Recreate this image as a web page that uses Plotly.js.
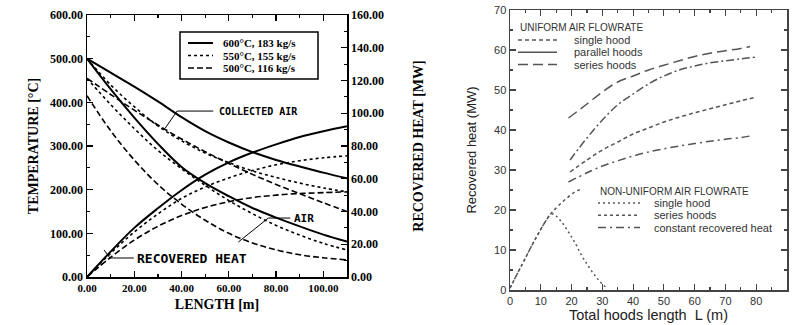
<!DOCTYPE html>
<html><head><meta charset="utf-8">
<script src="https://cdn.plot.ly/plotly-3.0.1.min.js"></script>
<style>html,body{margin:0;padding:0;background:#fff;}#chart{width:792px;height:325px;}</style>
</head><body><div id="chart"></div>
<script>
// ---------- Left chart data ----------
const lengthM = [0,10,20,30,40,50,60,70,80,90,100,110];
const collectedAir600 = [500,468,436,402,366,334,308,286,268,253,239,226];
const collectedAir550 = [500,440,390,346,312,284,262,243,228,215,204,195];
const collectedAir500 = [455,418,382,348,316,287,260,235,212,191,170,150];
const air600 = [500,430,365,305,252,215,185,158,136,116,97,81];
const air550 = [455,395,340,290,248,210,175,145,118,96,77,62];
const air500 = [415,335,268,212,167,130,100,78,62,51,44,39];
const heat600 = [0,15.5,30,42,53,62.5,70,76,81,85.5,89,92];
const heat550 = [0,14.5,27.5,38.5,48,55,60.5,65,68.5,71,72.8,74];
const heat500 = [0,12,22.5,31,37.5,42.5,46,48.5,50,51,51.5,52];
const caseLabels = ['600°C, 183 kg/s','550°C, 155 kg/s','500°C, 116 kg/s'];
const curveLabels = ['COLLECTED AIR','AIR','RECOVERED HEAT'];

// ---------- Right chart data ----------
const uniformL = [19.5,25,30,35,40,45,50,55,60,65,70,75,80];
const uniformLShort = [19,25,30,35,40,45,50,55,60,65,70,75,78];
const uniformSingle = [29.5,32.5,35,37,39,40.5,42,43.2,44.3,45.3,46.3,47.3,48.2];
const uniformParallel = [32.5,38,42.5,46.3,49,51.5,53.5,55,56,56.8,57.3,57.8,58.2];
const uniformSeries = [43,46.5,49.5,52,53.5,55,56.2,57.3,58.4,59.2,59.8,60.4,60.9];
const nuSingleL = [0,1,3,5,7,9,11,13,14,15,17,19,21,23,25,27,29,31];
const nuSingle = [0.5,2,5,8,11,13.8,16.5,18.7,19,18.5,16.8,14.5,12,9,6.5,4.2,2.3,0.8];
const nuSeriesL = [0,1,3,5,7,9,11,13,15,17,19,21,22.5,23.5];
const nuSeries = [0.5,2,5,8,11,13.8,16.5,18.8,20.5,22,23.3,24.5,25,24.8];
const constantHeat = [27,29.3,31,32.3,33.5,34.5,35.3,36,36.6,37.2,37.7,38.1,38.5];
const uniformNames = ['single hood','parallel hoods','series hoods'];
const nonUniformNames = ['single hood','series hoods','constant recovered heat'];

// ---------- styles ----------
const W = 792, H = 325;
const px = x => x / W, py = y => 1 - y / H;
const serif = 'Liberation Serif, Times New Roman, serif';
const mono = 'DejaVu Sans Mono, Liberation Mono, monospace';
const sans = 'Liberation Sans, Arial, sans-serif';
const caseStyles = [
  {color:'#000', width:2, dash:'solid'},
  {color:'#000', width:1.6, dash:'dot'},
  {color:'#000', width:1.6, dash:'6px,3px'}
];
const gray = '#555';
const uStyles = [
  {color:gray, width:1.5, dash:'4px,3px'},
  {color:gray, width:1.5, dash:'8px,3px,2px,3px'},
  {color:gray, width:1.5, dash:'10px,5px'}
];
const nuStyles = [
  {color:gray, width:1.5, dash:'2px,3px'},
  {color:gray, width:1.5, dash:'3px,3px'},
  {color:gray, width:1.5, dash:'8px,4px,2px,4px'}
];

const traces = [];
const leftSets = [
  [collectedAir600, air600, heat600],
  [collectedAir550, air550, heat550],
  [collectedAir500, air500, heat500]
];
leftSets.forEach((set, i) => {
  set.forEach((vals, j) => {
    traces.push({x: lengthM, y: vals, type:'scatter', mode:'lines',
      line: Object.assign({shape:'spline'}, caseStyles[i]),
      xaxis:'x', yaxis: j === 2 ? 'y2' : 'y', showlegend:false,
      name: caseLabels[i] + ' ' + curveLabels[j]});
  });
});
const rightSets = [
  {x: uniformL, y: uniformSingle, s: uStyles[0]},
  {x: uniformL, y: uniformParallel, s: uStyles[1]},
  {x: uniformLShort, y: uniformSeries, s: uStyles[2]},
  {x: nuSingleL, y: nuSingle, s: nuStyles[0]},
  {x: nuSeriesL, y: nuSeries, s: nuStyles[1]},
  {x: uniformLShort, y: constantHeat, s: nuStyles[2]}
];
rightSets.forEach(r => traces.push({x:r.x, y:r.y, type:'scatter', mode:'lines',
  line:Object.assign({shape:'spline'}, r.s), xaxis:'x2', yaxis:'y3', showlegend:false}));

// ---------- manual legends & labels ----------
const shapes = [];
const annotations = [];
shapes.push({type:'rect', xref:'paper', yref:'paper', x0:px(180), x1:px(318), y0:py(79), y1:py(32),
  line:{color:'#000', width:1.5}});
caseLabels.forEach((t, i) => {
  const y = 43 + 12.5 * i;
  shapes.push({type:'line', xref:'paper', yref:'paper', x0:px(188), x1:px(213), y0:py(y), y1:py(y), line:caseStyles[i]});
  annotations.push({xref:'paper', yref:'paper', x:px(221), y:py(y), xanchor:'left', yanchor:'middle',
    text:t, showarrow:false, font:{family:serif, size:11, color:'#000', weight:'bold'}});
});
function legendBlock(title, names, styles, x0, x1, xt, yTitle, y0) {
  annotations.push({xref:'paper', yref:'paper', x:px(x0), y:py(yTitle), xanchor:'left', yanchor:'middle',
    text:title, showarrow:false, font:{family:sans, size:10, color:'#333'}});
  names.forEach((n, i) => {
    const y = y0 + 12.3 * i;
    shapes.push({type:'line', xref:'paper', yref:'paper', x0:px(x0), x1:px(x1), y0:py(y), y1:py(y), line:styles[i]});
    annotations.push({xref:'paper', yref:'paper', x:px(xt), y:py(y), xanchor:'left', yanchor:'middle',
      text:n, showarrow:false, font:{family:sans, size:11, color:'#333'}});
  });
}
legendBlock('UNIFORM AIR FLOWRATE', uniformNames, [uStyles[0], {color:gray,width:1.5,dash:'solid'}, uStyles[2]], 518, 557, 572, 28, 40);
legendBlock('NON-UNIFORM AIR FLOWRATE', nonUniformNames, nuStyles, 598, 640, 652, 191.5, 203);

annotations.push({xref:'x', yref:'y', x:55.1, y:380, xanchor:'left', yanchor:'middle', text:curveLabels[0],
  showarrow:false, font:{family:mono, size:10, color:'#000', weight:'bold'}});
annotations.push({xref:'x', yref:'y', x:86.9, y:135, xanchor:'left', yanchor:'middle', text:curveLabels[1],
  showarrow:false, font:{family:mono, size:11, color:'#000', weight:'bold'}});
annotations.push({xref:'x', yref:'y', x:20.3, y:43.5, xanchor:'left', yanchor:'middle', text:curveLabels[2],
  showarrow:false, font:{family:mono, size:13, color:'#000', weight:'bold'}});
const ptr = {color:'#000', width:1};
shapes.push({type:'path', xref:'x', yref:'y', path:'M 53.4 380 L 38.1 380 L 33.1 341', line:ptr});
shapes.push({type:'path', xref:'x', yref:'y', path:'M 86 135 L 76.7 135 L 64 80', line:ptr});
shapes.push({type:'path', xref:'x', yref:'y', path:'M 19.8 43.5 L 9.7 43.5 L 7.2 62', line:ptr});

// ---------- axes ----------
const lTick = {family:serif, size:11, color:'#000', weight:'bold'};
const lyTick = {family:serif, size:12, color:'#000', weight:'bold'};
const lTitle = {family:serif, size:14, color:'#000', weight:'bold'};
const rTick = {family:sans, size:11, color:'#333'};
const common = {showgrid:false, zeroline:false, showline:true, ticks:'inside', ticklen:6, tickwidth:1.2};

const layout = {
  width:W, height:H, margin:{l:0,r:0,t:0,b:0}, paper_bgcolor:'#fff', plot_bgcolor:'#fff',
  showlegend:false,
  xaxis: Object.assign({}, common, {domain:[px(87), px(347)], anchor:'y', range:[0,110], tick0:0, dtick:20,
    tickformat:'.2f', linecolor:'#000', linewidth:1.5, tickcolor:'#000', mirror:'ticks',
    minor:{dtick:10, ticks:'inside', ticklen:3, tickcolor:'#000'}, tickfont:lTick,
    title:{text:'LENGTH [m]', font:lTitle, standoff:6}}),
  yaxis: Object.assign({}, common, {domain:[py(277), py(15)], anchor:'x', range:[0,600], dtick:100,
    tickformat:'.2f', linecolor:'#000', linewidth:1.5, tickcolor:'#000',
    minor:{dtick:50, ticks:'inside', ticklen:3, tickcolor:'#000'}, tickfont:lyTick,
    title:{text:'TEMPERATURE [°C]', font:lTitle, standoff:8}}),
  yaxis2: Object.assign({}, common, {overlaying:'y', side:'right', anchor:'x', range:[0,160], dtick:20,
    tickformat:'.2f', linecolor:'#000', linewidth:1.5, tickcolor:'#000',
    minor:{dtick:10, ticks:'inside', ticklen:3, tickcolor:'#000'}, tickfont:lyTick,
    title:{text:'RECOVERED HEAT [MW]', font:lTitle, standoff:30}}),
  xaxis2: Object.assign({}, common, {domain:[px(510), px(787)], anchor:'y3', range:[0,90], dtick:10,
    linecolor:'#444', linewidth:1.5, tickcolor:'#444', mirror:'ticks',
    minor:{dtick:5, ticks:'inside', ticklen:3, tickcolor:'#444'}, tickfont:rTick,
    title:{text:'Total hoods length  L (m)', font:{family:sans, size:14.5, color:'#222'}, standoff:2}}),
  yaxis3: Object.assign({}, common, {domain:[py(290), py(10)], anchor:'x2', range:[0,70], dtick:10,
    linecolor:'#444', linewidth:1.5, tickcolor:'#444', mirror:'ticks',
    minor:{dtick:5, ticks:'inside', ticklen:3, tickcolor:'#444'}, tickfont:rTick,
    title:{text:'Recovered heat (MW)', font:{family:sans, size:13, color:'#222'}, standoff:14}}),
  shapes: shapes,
  annotations: annotations
};
Plotly.newPlot('chart', traces, layout, {displayModeBar:false, staticPlot:true});
</script></body></html>
